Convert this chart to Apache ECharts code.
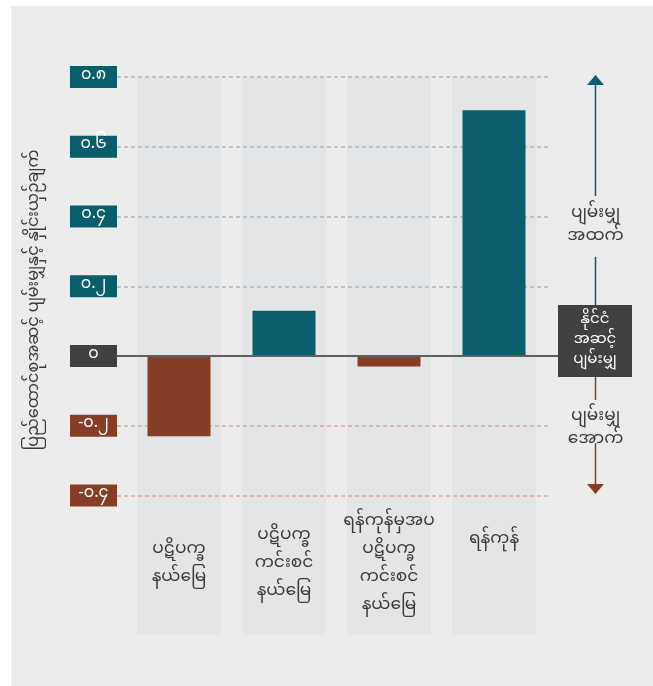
<!DOCTYPE html>
<html><head><meta charset="utf-8">
<script src="https://cdn.jsdelivr.net/npm/echarts@6/dist/echarts.min.js"></script>
<style>html,body{margin:0;padding:0;background:#fff;}#c{width:653px;height:686px;}</style>
</head><body><div id="c"></div>
<script>
// ---- data ----
const categories = ['ပဋိပက္ခ\nနယ်မြေ', 'ပဋိပက္ခ\nကင်းစင်\nနယ်မြေ', 'ရန်ကုန်မှအပ\nပဋိပက္ခ\nကင်းစင်\nနယ်မြေ', 'ရန်ကုန်'];
const values = [-0.23, 0.13, -0.03, 0.705];
const tickValues = [-0.4, -0.2, 0, 0.2, 0.4, 0.6, 0.8];
const tickLabels = ['-၀.၄', '-၀.၂', '၀', '၀.၂', '၀.၄', '၀.၆', '၀.၈'];
const yTitle = 'ပြည်ထောင်စုအဆင့် ပျမ်းမျှနှင့် နှိုင်းယှဉ်ချက်';
const noteAbove = 'ပျမ်းမျှ\nအထက်';
const noteMid = 'နိုင်ငံ\nအဆင့်\nပျမ်းမျှ';
const noteBelow = 'ပျမ်းမျှ\nအောက်';

// ---- styles ----
const FONT = "'Noto Sans Myanmar','Padauk','Myanmar Text','Noto Sans',sans-serif";
const TEAL = '#0a5e6b', BROWN = '#873e26', DARK = '#414141', INK = '#3b3b3b';
const GRID_POS = '#a9b7bd', GRID_NEG = '#d6aa98';

const chart = echarts.init(document.getElementById('c'), null, {renderer: 'canvas'});

function tickFmt(v) {
  for (let i = 0; i < tickValues.length; i++) {
    if (Math.abs(tickValues[i] - v) < 1e-6) {
      const s = tickValues[i] > 0 ? 'pos' : (tickValues[i] < 0 ? 'neg' : 'zero');
      return '{' + s + '|' + tickLabels[i] + '}';
    }
  }
  return '';
}
const boxStyle = c => ({backgroundColor: c, color: '#fff', width: 47, height: 22, lineHeight: 22, align: 'center', fontSize: 16, fontFamily: FONT});

const splitColors = [-0.8, -0.6, -0.4, -0.2, 0, 0.2, 0.4, 0.6, 0.8].map(v =>
  (v > 0.01 ? GRID_POS : (v < -0.01 && tickValues.some(t => Math.abs(t - v) < 1e-6) ? GRID_NEG : 'rgba(0,0,0,0)')));

// single-line label sits higher in the reference
const categoryItems = categories.map(c => (c.indexOf('\n') < 0
  ? {value: c, textStyle: {verticalAlign: 'bottom', lineHeight: 48}} : c));

const option = {
  backgroundColor: '#ffffff',
  animation: false,
  textStyle: {fontFamily: FONT},
  grid: [
    {left: 117, right: 105, top: 77, bottom: 51},
    {left: 117, right: 95, top: 77, bottom: 51},
    {left: 126.5, right: 106.5, top: 77, bottom: 51},
    {left: 126.5, right: 106.5, top: 77, bottom: 176}
  ],
  xAxis: [
    {gridIndex: 0, type: 'value', min: 0, max: 1, show: false},
    {gridIndex: 1, type: 'value', min: 0, max: 1, z: 6,
      axisLine: {show: true, onZero: true, lineStyle: {color: '#5e5e5e', width: 2}},
      axisTick: {show: false}, axisLabel: {show: false}, splitLine: {show: false}},
    {gridIndex: 2, type: 'category', data: categories, show: false},
    {gridIndex: 2, type: 'category', data: categories, show: false},
    {gridIndex: 3, type: 'category', data: categoryItems, position: 'bottom', z: 7,
      axisLine: {show: false, onZero: false}, axisTick: {show: false}, splitLine: {show: false},
      axisLabel: {show: true, interval: 0, margin: 55, verticalAlign: 'middle', lineHeight: 28,
        fontSize: 17, color: INK, fontFamily: FONT}}
  ],
  yAxis: [
    {gridIndex: 0, type: 'value', min: -0.8, max: 0.8, interval: 0.2, z: 2,
      axisLine: {show: false}, axisTick: {show: false},
      axisLabel: {margin: 0, formatter: tickFmt,
        rich: {pos: boxStyle(TEAL), neg: boxStyle(BROWN), zero: boxStyle(DARK)}},
      splitLine: {show: true, lineStyle: {type: [4, 3], width: 1.5, color: splitColors}}},
    {gridIndex: 1, type: 'value', min: -0.8, max: 0.8, show: false},
    {gridIndex: 2, type: 'value', min: -0.8, max: 0.8, show: false},
    {gridIndex: 3, type: 'value', min: 0, max: 1, show: false}
  ],
  series: [
    {type: 'bar', xAxisIndex: 3, yAxisIndex: 2, data: categories.map(() => 0), barWidth: '80%',
      showBackground: true, backgroundStyle: {color: '#e4e5e7'}, silent: true, z: 1},
    {type: 'bar', xAxisIndex: 2, yAxisIndex: 2, data: values, barWidth: '60%', z: 3,
      itemStyle: {color: p => (p.value >= 0 ? TEAL : BROWN)}}
  ],
  graphic: [
    {type: 'rect', z: -10, shape: {x: 11, y: 6, width: 642, height: 680}, style: {fill: '#ececec'}},
    {type: 'text', x: 36, y: 300, rotation: Math.PI / 2,
      style: {text: yTitle, fill: INK, fontSize: 16, fontFamily: FONT, align: 'center', verticalAlign: 'middle'}},
    // upward arrow
    {type: 'polygon', shape: {points: [[587, 85], [604, 85], [595.5, 75]]}, style: {fill: TEAL}},
    {type: 'line', shape: {x1: 595.5, y1: 84, x2: 595.5, y2: 196}, style: {stroke: TEAL, lineWidth: 1.5}},
    {type: 'text', x: 595.5, y: 227, style: {text: noteAbove, fill: INK, fontSize: 17, lineHeight: 23, fontFamily: FONT, align: 'center', verticalAlign: 'middle'}},
    {type: 'line', shape: {x1: 595.5, y1: 257, x2: 595.5, y2: 305}, style: {stroke: TEAL, lineWidth: 1.5}},
    // national average box
    {type: 'rect', z: 20, shape: {x: 558, y: 305, width: 74, height: 72}, style: {fill: DARK}},
    {type: 'text', z: 21, x: 595, y: 341, style: {text: noteMid, fill: '#ffffff', fontSize: 15, lineHeight: 20, fontFamily: FONT, align: 'center', verticalAlign: 'middle'}},
    // downward arrow
    {type: 'line', shape: {x1: 595.5, y1: 377, x2: 595.5, y2: 400}, style: {stroke: BROWN, lineWidth: 1.5}},
    {type: 'text', x: 595.5, y: 430, style: {text: noteBelow, fill: INK, fontSize: 17, lineHeight: 23, fontFamily: FONT, align: 'center', verticalAlign: 'middle'}},
    {type: 'line', shape: {x1: 595.5, y1: 443, x2: 595.5, y2: 485}, style: {stroke: BROWN, lineWidth: 1.5}},
    {type: 'polygon', shape: {points: [[587, 484], [604, 484], [595.5, 494]]}, style: {fill: BROWN}}
  ]
};
chart.setOption(option);
</script>
</body></html>
